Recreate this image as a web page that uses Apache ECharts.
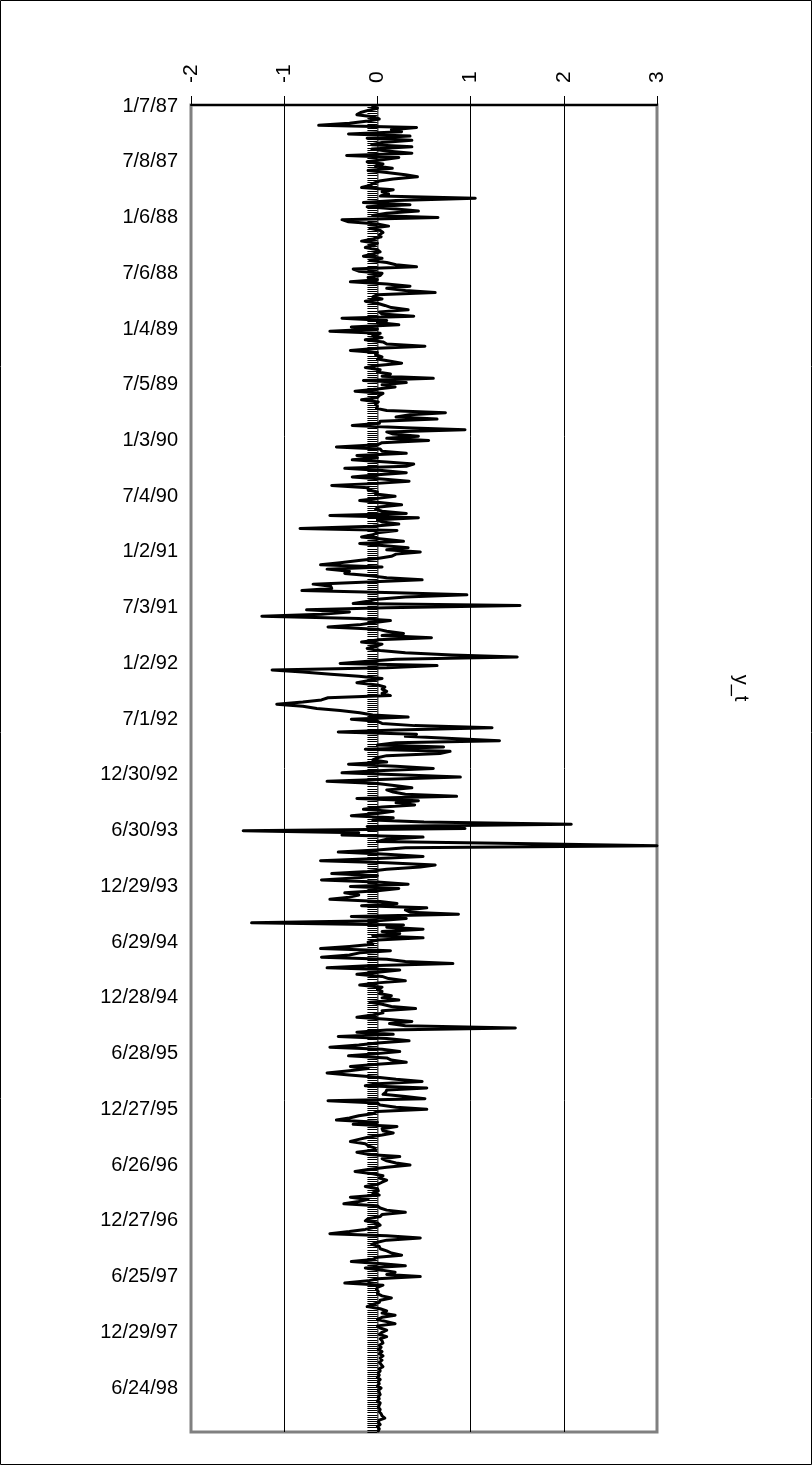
<!DOCTYPE html>
<html>
<head>
<meta charset="utf-8">
<script src="https://cdn.jsdelivr.net/npm/echarts@6/dist/echarts.min.js"></script>
<style>
  html, body { margin: 0; padding: 0; background: #fff; }
  #chart { width: 812px; height: 1465px; }
</style>
</head>
<body>
<div id="chart"></div>
<script>
// Tick labels shown on the date (category) axis, one every 26 weeks
const tickLabels = ['1/7/87','7/8/87','1/6/88','7/6/88','1/4/89','7/5/89','1/3/90','7/4/90',
  '1/2/91','7/3/91','1/2/92','7/1/92','12/30/92','6/30/93','12/29/93','6/29/94',
  '12/28/94','6/28/95','12/27/95','6/26/96','12/27/96','6/25/97','12/29/97','6/24/98'];
const LABEL_STEP = 26;
const seriesName = 'y_t';

// Weekly values of y_t (estimated)
const yValues = [
-0.05,0.0,-0.1,-0.18,-0.22,-0.05,0.02,-0.1,-0.3,-0.63,
0.42,0.15,0.26,-0.31,0.35,-0.11,0.37,0.05,-0.06,0.37,
-0.06,0.1,0.37,-0.33,0.23,0.05,-0.11,0.06,-0.02,0.16,
-0.1,0.1,0.3,0.43,0.17,0.02,-0.04,-0.08,-0.17,0.17,
0.05,0.12,0.03,1.05,0.2,-0.15,0.35,-0.11,0.2,0.44,
0.1,-0.05,0.65,-0.38,-0.31,0.0,0.12,-0.08,0.03,0.06,
0.02,0.04,-0.05,-0.17,0.0,-0.05,-0.13,0.0,0.03,-0.05,
-0.15,0.05,-0.08,0.1,0.2,0.42,-0.26,-0.2,0.05,0.03,
-0.1,0.0,-0.29,0.1,0.35,0.1,0.3,0.62,0.0,-0.05,
0.05,-0.13,0.0,0.08,0.15,0.33,0.02,0.05,0.39,-0.38,
0.1,0.0,0.23,-0.28,0.0,-0.51,0.03,-0.05,0.05,-0.13,
0.06,0.1,0.51,0.0,-0.29,0.0,-0.02,0.05,0.0,0.14,
0.26,0.0,-0.13,0.03,0.0,0.14,0.05,0.6,-0.15,0.31,
0.05,0.19,0.0,-0.24,0.06,0.02,0.0,-0.17,0.01,-0.02,
0.0,-0.01,0.1,0.73,0.35,0.2,0.64,0.03,0.02,-0.27,
0.3,0.94,0.1,0.17,0.44,0.1,0.55,0.05,0.0,-0.44,
0.03,0.05,0.31,-0.22,0.0,-0.27,0.1,0.39,0.31,-0.35,
0.05,0.31,0.0,-0.27,0.05,0.34,0.0,-0.49,-0.1,-0.1,
0.0,-0.02,0.19,0.0,-0.19,0.05,0.26,0.02,-0.02,0.05,
0.31,-0.51,0.44,0.0,0.05,0.23,-0.05,-0.83,0.21,0.0,
-0.05,-0.17,0.05,0.28,-0.19,0.05,0.33,0.1,0.46,0.2,
0.15,0.0,-0.2,-0.4,-0.61,0.05,-0.54,-0.3,-0.35,-0.1,
0.1,0.48,-0.1,-0.69,-0.5,-0.49,-0.81,0.2,0.96,0.3,
0.0,-0.1,-0.26,1.53,0.1,-0.76,-0.3,-0.6,-1.24,-0.2,
0.14,-0.05,-0.2,-0.53,0.0,0.1,0.28,0.05,0.58,0.0,
-0.17,0.05,-0.02,-0.11,0.03,0.3,0.8,1.5,0.2,-0.1,
-0.4,0.64,0.1,-1.13,-0.8,-0.5,-0.2,0.05,-0.1,-0.22,
0.0,0.08,0.05,0.1,0.05,0.14,-0.53,-0.6,-0.8,-1.08,
-0.8,-0.65,-0.4,-0.19,-0.05,0.33,-0.28,0.0,0.05,0.4,
1.23,0.2,-0.42,0.42,0.3,0.8,1.31,0.2,0.0,0.71,
-0.13,0.78,0.67,0.1,0.0,-0.05,0.1,-0.31,0.2,0.6,
0.0,-0.38,0.3,0.89,0.1,-0.54,0.0,0.2,0.37,0.1,
0.17,0.3,0.85,-0.22,0.44,0.2,0.4,0.05,-0.15,0.17,
0.0,-0.28,0.17,-0.05,0.5,2.08,-0.11,0.94,-1.44,-0.2,
-0.38,0.49,0.1,0.0,1.5,3.0,0.3,0.0,-0.42,0.1,
0.49,0.0,-0.61,0.1,0.62,0.46,0.1,-0.1,-0.49,0.0,
-0.2,-0.6,0.0,0.33,-0.29,0.23,0.0,-0.35,-0.2,-0.3,
-0.51,0.03,0.21,-0.17,0.53,0.3,0.35,0.87,-0.28,0.31,
0.0,-1.35,0.28,0.1,0.49,0.05,0.24,-0.05,0.49,0.0,
-0.1,-0.05,-0.3,-0.61,0.14,-0.19,-0.3,-0.6,0.1,0.3,
0.81,-0.1,-0.54,0.24,0.0,-0.22,0.05,0.12,0.3,0.0,
-0.19,0.05,0.0,0.05,0.02,0.15,0.05,0.23,-0.08,0.05,
0.15,0.41,0.05,0.06,-0.05,-0.22,0.1,0.37,0.13,0.3,
1.48,0.1,-0.22,0.17,-0.42,0.1,0.34,0.0,-0.2,-0.51,
0.05,0.24,0.0,-0.31,0.1,0.15,0.31,0.0,-0.29,-0.1,
-0.3,-0.54,-0.3,0.0,0.2,0.48,0.0,-0.13,0.53,0.1,
0.09,0.06,0.3,0.51,-0.53,0.0,0.03,0.2,0.53,0.0,
-0.05,-0.2,-0.3,-0.44,0.0,-0.26,0.21,0.05,0.06,0.17,
0.05,-0.1,-0.2,-0.29,-0.13,-0.1,-0.03,-0.02,-0.22,-0.1,
0.24,0.05,0.1,0.2,0.35,0.1,-0.1,-0.24,-0.05,0.06,
0.02,0.1,0.05,0.0,-0.13,0.0,0.01,-0.05,0.02,-0.29,
-0.1,-0.2,-0.36,0.0,0.03,0.1,0.3,0.05,0.03,-0.1,
-0.13,0.0,0.03,-0.03,-0.13,-0.3,-0.51,0.1,0.46,0.1,
0.0,-0.06,0.02,0.03,0.1,0.15,0.26,0.0,-0.05,-0.28,
0.05,0.3,-0.13,0.05,0.19,0.1,0.46,0.0,-0.1,-0.35,
0.06,0.0,-0.01,0.01,0.0,0.05,0.15,0.03,0.02,-0.05,
-0.11,0.03,0.1,0.05,0.19,0.05,0.0,0.1,0.19,0.0,
0.03,0.1,0.05,0.02,0.1,0.03,0.05,0.06,0.02,0.04,
0.01,0.05,0.02,0.06,0.03,0.05,0.02,0.04,0.06,0.02,
0.03,0.01,0.02,0.0,0.03,0.01,0.02,0.0,0.04,0.01,
0.02,0.03,0.01,0.02,0.0,0.03,0.02,0.01,0.03,0.02,
0.04,0.05,0.08,0.02,0.01,0.03,0.0,0.02,0.01
];

// Value-axis range and ticks
const valueMin = -2, valueMax = 3, valueStep = 1;

// Weekly category names (Wednesdays from 1/7/87); labelled weeks use the chart's own labels
const categories = yValues.map((_, i) => {
  const d = new Date(Date.UTC(1987, 0, 7 + 7 * i));
  return (d.getUTCMonth() + 1) + '/' + d.getUTCDate() + '/' + String(d.getUTCFullYear()).slice(2);
});
tickLabels.forEach((lab, k) => { if (k * LABEL_STEP < categories.length) categories[k * LABEL_STEP] = lab; });

const FONT = '"Liberation Sans", Arial, sans-serif';
const chart = echarts.init(document.getElementById('chart'), null, { renderer: 'canvas' });

chart.setOption({
  animation: false,
  backgroundColor: '#ffffff',
  grid: {
    left: 191, top: 105, width: 466, height: 1327,
    show: true, borderColor: '#808080', borderWidth: 3, backgroundColor: 'transparent'
  },
  xAxis: {
    type: 'value', position: 'top', min: valueMin, max: valueMax, interval: valueStep,
    axisLine: { show: true, onZero: false, lineStyle: { color: '#000', width: 2 } },
    axisTick: { show: true, length: 9, lineStyle: { color: '#000', width: 1 } },
    axisLabel: { rotate: -90, margin: 22, fontSize: 21, color: '#000', fontFamily: FONT },
    splitLine: { show: true, showMinLine: false, showMaxLine: false, lineStyle: { color: '#000', width: 1 } }
  },
  yAxis: [
    {
      type: 'category', data: categories, inverse: true, boundaryGap: true, position: 'left',
      axisLine: { show: false, onZero: false },
      axisTick: { show: false },
      axisLabel: { interval: LABEL_STEP - 1, margin: 13, fontSize: 20, color: '#000', fontFamily: FONT },
      splitLine: { show: false }
    },
    {
      type: 'category', data: categories, inverse: true, boundaryGap: true, position: 'right',
      axisLine: { show: true, onZero: true, lineStyle: { color: '#808080', width: 1.5 } },
      axisTick: { show: true, inside: true, interval: 0, length: 10, lineStyle: { color: '#000', width: 1 } },
      axisLabel: { show: false },
      splitLine: { show: false }
    }
  ],
  series: [{
    name: seriesName, type: 'line', data: yValues, xAxisIndex: 0, yAxisIndex: 0,
    showSymbol: false, symbol: 'none',
    lineStyle: { color: '#000', width: 3, cap: 'round', join: 'round' },
    z: 5
  }],
  graphic: [
    { type: 'text', x: 741, y: 688, rotation: -Math.PI / 2,
      style: { text: seriesName, fontSize: 20, fontFamily: FONT, fill: '#000', align: 'center', verticalAlign: 'middle' } },
    { type: 'rect', shape: { x: 0.5, y: 0.5, width: 811, height: 1464 },
      style: { fill: 'none', stroke: '#000', lineWidth: 1 }, silent: true, z: 100 }
  ]
});
</script>
</body>
</html>
